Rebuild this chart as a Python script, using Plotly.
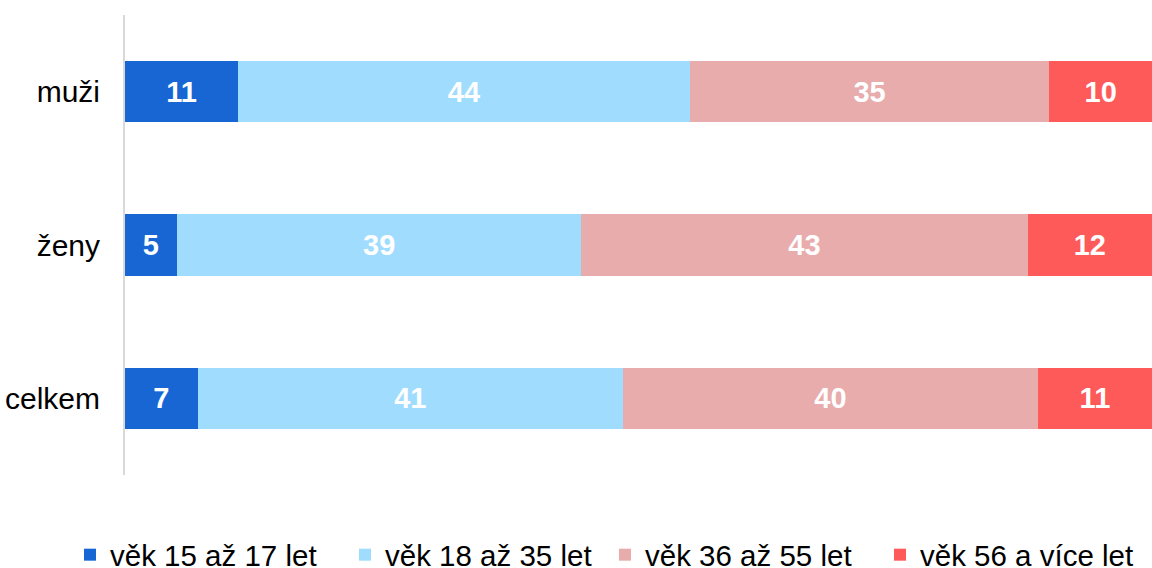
import plotly.graph_objects as go

categories = ["muži", "ženy", "celkem"]
series_names = ["věk 15 až 17 let", "věk 18 až 35 let", "věk 36 až 55 let", "věk 56 a více let"]
values_15_17 = [11, 5, 7]
values_18_35 = [44, 39, 41]
values_36_55 = [35, 43, 40]
values_56_plus = [10, 12, 11]
colors = ["#1766D3", "#9FDCFE", "#E8ACAC", "#FF5A5A"]

all_values = [values_15_17, values_18_35, values_36_55, values_56_plus]
legend_ids = ["legend", "legend2", "legend3", "legend4"]
legend_text_px = [112, 387, 647, 922]

L, R, T, B = 125, 0, 15, 93
W, H = 1152, 568
pw = W - L - R
ph = H - T - B
FONT = "Liberation Sans, Arial"

fig = go.Figure()
for name, vals, col, lid in zip(series_names, all_values, colors, legend_ids):
    fig.add_trace(go.Bar(
        y=categories, x=vals, name=name, orientation="h",
        marker=dict(color=col, line=dict(width=0)),
        text=[str(v) for v in vals], textposition="inside",
        insidetextanchor="middle", textangle=0,
        textfont=dict(family=FONT, size=29, color="white", weight="bold"),
        hoverinfo="skip", legend=lid,
    ))

layout_legends = {}
for lid, tx in zip(legend_ids, legend_text_px):
    layout_legends[lid] = dict(
        x=(tx - 42 - L) / pw, xanchor="left", y=-(555 - (H - B)) / ph,
        yanchor="middle", orientation="v", bgcolor="rgba(0,0,0,0)",
        font=dict(family=FONT, size=29.5, color="#000000"),
        itemclick=False, itemdoubleclick=False,
    )

fig.update_layout(
    width=W, height=H,
    barmode="stack", barnorm="percent", bargap=0.6,
    plot_bgcolor="white", paper_bgcolor="white",
    margin=dict(l=L, r=R, t=T, b=B, autoexpand=False),
    showlegend=True,
    xaxis=dict(range=[0, 100], visible=False, fixedrange=True),
    yaxis=dict(autorange="reversed", showline=True, linecolor="#D9D9D9", linewidth=2,
               showgrid=False, zeroline=False, ticks="", ticklabelstandoff=17,
               tickfont=dict(family=FONT, size=30, color="#000000"),
               fixedrange=True),
    **layout_legends,
)

fig.write_html("out.html", config={"displayModeBar": False},
               post_script="document.body.style.margin='0';document.body.style.overflow='hidden';")
